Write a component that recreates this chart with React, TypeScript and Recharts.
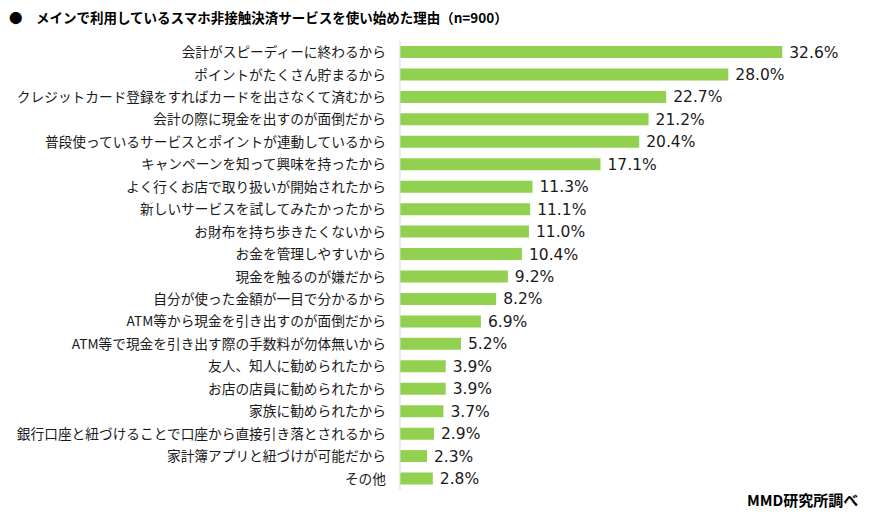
import { Bar, BarChart, LabelList, XAxis, YAxis } from "recharts";

const categories = [
  "会計がスピーディーに終わるから",
  "ポイントがたくさん貯まるから",
  "クレジットカード登録をすればカードを出さなくて済むから",
  "会計の際に現金を出すのが面倒だから",
  "普段使っているサービスとポイントが連動しているから",
  "キャンペーンを知って興味を持ったから",
  "よく行くお店で取り扱いが開始されたから",
  "新しいサービスを試してみたかったから",
  "お財布を持ち歩きたくないから",
  "お金を管理しやすいから",
  "現金を触るのが嫌だから",
  "自分が使った金額が一目で分かるから",
  "ATM等から現金を引き出すのが面倒だから",
  "ATM等で現金を引き出す際の手数料が勿体無いから",
  "友人、知人に勧められたから",
  "お店の店員に勧められたから",
  "家族に勧められたから",
  "銀行口座と紐づけることで口座から直接引き落とされるから",
  "家計簿アプリと紐づけが可能だから",
  "その他",
];

const values = [32.6, 28.0, 22.7, 21.2, 20.4, 17.1, 11.3, 11.1, 11.0, 10.4, 9.2, 8.2, 6.9, 5.2, 3.9, 3.9, 3.7, 2.9, 2.3, 2.8];

const data = categories.map((name, i) => ({ name, value: values[i] }));

const FONT = '"Noto Sans CJK JP", "Noto Sans", sans-serif';
const NUM_FONT = '"DejaVu Sans", sans-serif';

export default function App() {
  return (
    <div
      style={{
        position: "fixed",
        left: 0,
        top: 0,
        width: 871,
        height: 518,
        background: "#fff",
        fontFamily: FONT,
        color: "#000",
      }}
    >
      {/* title */}
      <div
        style={{
          position: "absolute",
          left: 9,
          top: 7,
          fontSize: 13.5,
          fontWeight: 700,
          whiteSpace: "nowrap",
        }}
      >
        <span style={{ display: "inline-block", width: 27 }}>●</span>
        メインで利用しているスマホ非接触決済サービスを使い始めた理由（n=900）
      </div>

      <BarChart
        width={871}
        height={518}
        data={data}
        layout="vertical"
        margin={{ top: 41, right: 2, bottom: 28, left: 0 }}
        barSize={12}
      >
        <XAxis type="number" domain={[0, 40]} hide />
        <YAxis
          type="category"
          dataKey="name"
          width={400}
          interval={0}
          tickLine={false}
          tickSize={0}
          tickMargin={14}
          axisLine={{ stroke: "#d9d9d9" }}
          tick={{ fontSize: 13.7, fill: "#1a1a1a", fontFamily: FONT }}
        />
        <Bar dataKey="value" fill="#92d050" isAnimationActive={false}>
          <LabelList
            dataKey="value"
            position="right"
            offset={7}
            formatter={(v: number) => `${v.toFixed(1)}%`}
            style={{ fontSize: 15.5, fill: "#1a1a1a", fontFamily: NUM_FONT }}
          />
        </Bar>
      </BarChart>

      {/* source */}
      <div
        style={{
          position: "absolute",
          left: 747,
          top: 489,
          fontSize: 15,
          fontWeight: 700,
          whiteSpace: "nowrap",
        }}
      >
        MMD研究所調べ
      </div>
    </div>
  );
}
